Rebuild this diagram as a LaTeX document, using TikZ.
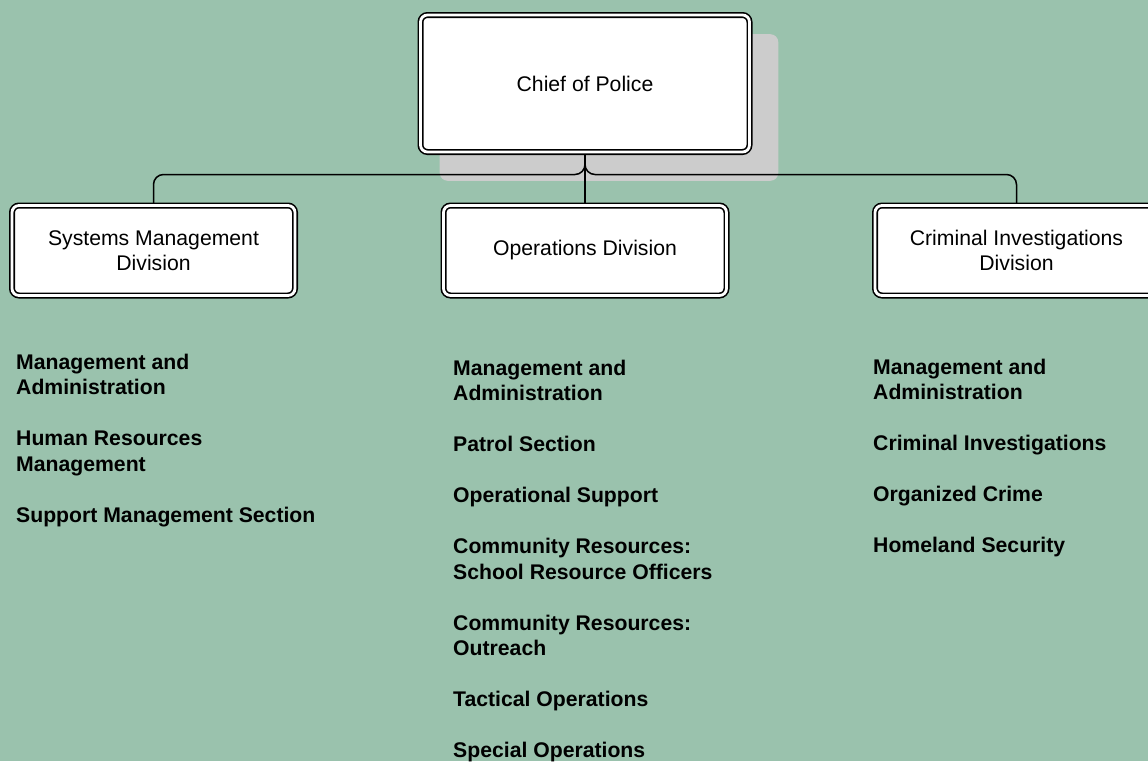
\documentclass[tikz,border=0pt]{standalone}
\usepackage{fontspec}
\setmainfont{Liberation Sans}
\pgfdeclarelayer{back}
\pgfdeclarelayer{bg}
\pgfsetlayers{back,bg,main}
\definecolor{bggreen}{RGB}{154,194,173}
\definecolor{shadowgray}{RGB}{204,204,204}
\tikzset{
  unitbox/.style={draw=black, line width=1.6pt, double=white, double distance=2.8pt,
    fill=white, rounded corners=7pt, inner sep=0pt, align=center,
    font=\fontsize{21.2}{24.5}\selectfont},
  chiefbox/.style={unitbox, minimum width=329pt, minimum height=137pt},
  divbox/.style={unitbox, minimum width=283pt, minimum height=90pt},
  listtext/.style={anchor=north west, inner sep=0pt, align=left,
    font=\fontsize{21.2}{25.5}\selectfont\bfseries},
  conn/.style={draw=black, line width=1.5pt},
}
\begin{document}
\begin{tikzpicture}[x=1pt,y=-1pt]
\useasboundingbox (0,0) rectangle (1148,761);
\begin{pgfonlayer}{back}
  \fill[bggreen] (0,0) rectangle (1148,761);
\end{pgfonlayer}
\begin{scope}
\clip (0,0) rectangle (1148,761);
\node[chiefbox] (chief) at (585,83.5) {Chief of Police};
\node[divbox] (sys) at (153.5,250.5) {Systems Management\\Division};
\node[divbox] (ops) at (585,250.5) {Operations Division};
\node[divbox] (cid) at (1016.5,250.5) {Criminal Investigations\\Division};
\coordinate (bus) at (585,174.5);
\begin{pgfonlayer}{back}
  \fill[shadowgray, rounded corners=8pt] ([shift={(20,20)}]chief.north west) rectangle ([shift={(28,28)}]chief.south east);
\end{pgfonlayer}
\begin{pgfonlayer}{bg}
  \draw[conn] (chief.south) -- (ops.north);
  \draw[conn, rounded corners=10pt] (chief.south) |- (bus -| sys.north) -- (sys.north);
  \draw[conn, rounded corners=10pt] (chief.south) |- (bus -| cid.north) -- (cid.north);
\end{pgfonlayer}
\end{scope}
\node[listtext] (l1) at (16,353.8) {Management and\\Administration\\[25.5pt]Human Resources\\Management\\[25.5pt]Support Management Section};
\node[listtext] (l2) at (453,359.8) {Management and\\Administration\\[25.5pt]Patrol Section\\[25.5pt]Operational Support\\[25.5pt]Community Resources:\\School Resource Officers\\[25.5pt]Community Resources:\\Outreach\\[25.5pt]Tactical Operations\\[25.5pt]Special Operations};
\node[listtext] (l3) at (873,358.8) {Management and\\Administration\\[25.5pt]Criminal Investigations\\[25.5pt]Organized Crime\\[25.5pt]Homeland Security};
\end{tikzpicture}
\end{document}
